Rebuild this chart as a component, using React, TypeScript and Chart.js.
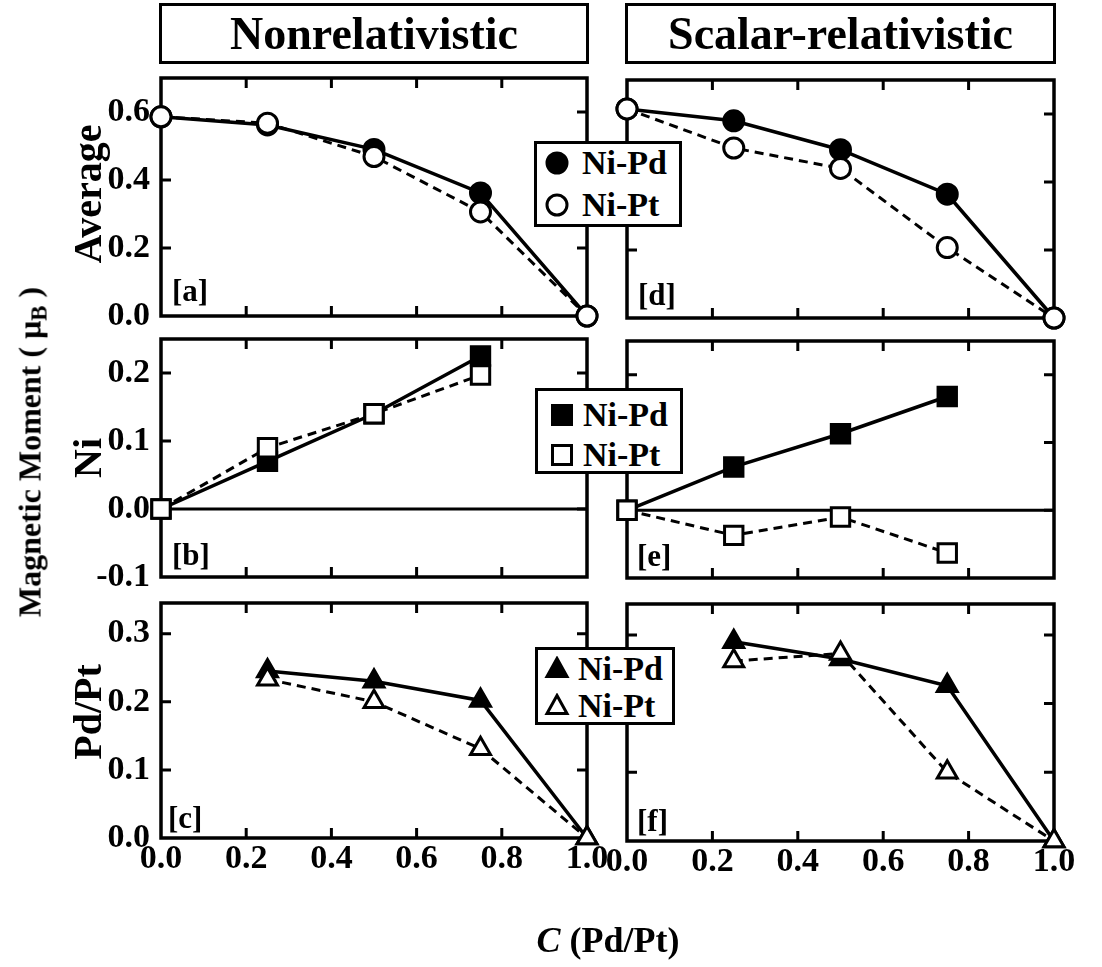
import React, { useEffect, useRef } from 'react';
import { Chart, registerables } from 'chart.js';

Chart.register(...registerables);

// ---------------- data ----------------
const concentrations = [0, 0.25, 0.5, 0.75, 1.0];
const xTickValues = [0, 0.2, 0.4, 0.6, 0.8, 1.0];

const avgNonrelNiPd = [0.586, 0.562, 0.49, 0.362, 0];
const avgNonrelNiPt = [0.586, 0.567, 0.469, 0.306, 0];
const avgScalarNiPd = [0.615, 0.58, 0.495, 0.364, 0];
const avgScalarNiPt = [0.615, 0.5, 0.44, 0.207, 0];

const niNonrelNiPd = [0, 0.07, 0.14, 0.225, null];
const niNonrelNiPt = [0, 0.09, 0.14, 0.197, null];
const niScalarNiPd = [0, 0.064, 0.113, 0.168, null];
const niScalarNiPt = [0, -0.037, -0.01, -0.063, null];

const pdNonrelNiPd = [null, 0.245, 0.23, 0.202, 0];
const pdNonrelNiPt = [null, 0.233, 0.2, 0.131, 0];
const pdScalarNiPd = [null, 0.29, 0.265, 0.226, 0];
const pdScalarNiPt = [null, 0.262, 0.273, 0.1, 0];

const avgYTicks = [0, 0.2, 0.4, 0.6];
const niYTicks = [-0.1, 0, 0.1, 0.2];
const pdYTicks = [0, 0.1, 0.2, 0.3];
const avgYRange = [0, 0.7];
const niYRange = [-0.1, 0.25];
const pdYRange = [0, 0.345];

const seriesNames = ['Ni-Pd', 'Ni-Pt'];
const columnTitles = ['Nonrelativistic', 'Scalar-relativistic'];
const rowTitles = ['Average', 'Ni', 'Pd/Pt'];
const panelTags = ['[a]', '[b]', '[c]', '[d]', '[e]', '[f]'];
const yAxisTitle = 'Magnetic Moment ( \u03bc';
const yAxisTitleSub = 'B';
const xAxisTitleItalic = 'C';
const xAxisTitleRest = ' (Pd/Pt)';

// ---------------- layout / style ----------------
const SERIF = "'Liberation Serif', 'Times New Roman', Times, serif";
const PAD = 26;
const Y_AXIS_W = 90;
const X_AXIS_H = 60;

type Marker = 'circle' | 'rect' | 'triangle';

type PanelProps = {
  left: number; top: number; right: number; bottom: number;
  yRange: number[]; yTicks: number[];
  pd: (number | null)[]; pt: (number | null)[];
  marker: Marker; radius: number;
  showYLabels: boolean; showXLabels: boolean; zeroLine: boolean;
};

const framePlugin = {
  id: 'frame',
  beforeDatasetsDraw(chart: any, _args: any, opts: any) {
    const { ctx, chartArea } = chart;
    const { left, right, top, bottom } = chartArea;
    const xs = chart.scales.x;
    const ys = chart.scales.y;
    const tl = 10;
    ctx.save();
    ctx.strokeStyle = '#000';
    ctx.lineWidth = 3;
    ctx.beginPath();
    for (const v of opts.xTicks) {
      const px = xs.getPixelForValue(v);
      if (px <= left + 1 || px >= right - 1) continue;
      ctx.moveTo(px, top); ctx.lineTo(px, top + tl);
      ctx.moveTo(px, bottom); ctx.lineTo(px, bottom - tl);
    }
    for (const v of opts.yTicks) {
      const py = ys.getPixelForValue(v);
      if (py <= top + 1 || py >= bottom - 1) continue;
      ctx.moveTo(left, py); ctx.lineTo(left + tl, py);
      ctx.moveTo(right, py); ctx.lineTo(right - tl, py);
    }
    ctx.stroke();
    if (opts.zeroLine) {
      const py = ys.getPixelForValue(0);
      ctx.beginPath();
      ctx.moveTo(left, py); ctx.lineTo(right, py);
      ctx.stroke();
    }
    ctx.lineWidth = 3.5;
    ctx.strokeRect(left, top, right - left, bottom - top);
    ctx.restore();
  },
};

function toPoints(vals: (number | null)[]) {
  return concentrations
    .map((c, i) => ({ x: c, y: vals[i] }))
    .filter((p) => p.y !== null);
}

function zeroPadding(s: any) {
  s.paddingTop = 0;
  s.paddingBottom = 0;
  s.paddingLeft = 0;
  s.paddingRight = 0;
}

function Panel(p: PanelProps) {
  const ref = useRef<HTMLCanvasElement>(null);
  const yW = p.showYLabels ? Y_AXIS_W : 0;
  const xH = p.showXLabels ? X_AXIS_H : 0;
  const cw = PAD + yW + (p.right - p.left) + PAD;
  const ch = PAD + (p.bottom - p.top) + xH + PAD;

  useEffect(() => {
    const tickFont = { family: SERIF, size: 34, weight: 'bold' as const };
    const chart = new Chart(ref.current as HTMLCanvasElement, {
      type: 'line',
      data: {
        datasets: [
          {
            label: seriesNames[0],
            data: toPoints(p.pd) as any,
            borderColor: '#000',
            borderWidth: 3.5,
            pointStyle: p.marker,
            pointRadius: p.radius,
            pointBackgroundColor: '#000',
            pointBorderColor: '#000',
            pointBorderWidth: 3,
            order: 2,
            clip: false as any,
          },
          {
            label: seriesNames[1],
            data: toPoints(p.pt) as any,
            borderColor: '#000',
            borderWidth: 3,
            borderDash: [9, 6],
            pointStyle: p.marker,
            pointRadius: p.radius,
            pointBackgroundColor: '#fff',
            pointBorderColor: '#000',
            pointBorderWidth: 3,
            order: 1,
            clip: false as any,
          },
        ],
      },
      options: {
        responsive: false,
        maintainAspectRatio: false,
        animation: false,
        events: [],
        layout: { padding: { left: PAD, right: PAD, top: PAD, bottom: PAD } },
        plugins: {
          legend: { display: false },
          tooltip: { enabled: false },
          frame: { xTicks: xTickValues, yTicks: p.yTicks, zeroLine: p.zeroLine },
        } as any,
        scales: {
          x: {
            type: 'linear',
            min: 0,
            max: 1,
            grid: { display: false, drawTicks: false },
            border: { display: false },
            afterBuildTicks: (s: any) => { s.ticks = xTickValues.map((v) => ({ value: v })); },
            afterFit: (s: any) => { s.height = xH; zeroPadding(s); },
            ticks: {
              display: p.showXLabels,
              font: tickFont,
              color: '#000',
              padding: 1,
              maxRotation: 0,
              autoSkip: false,
              callback: (v: any) => Number(v).toFixed(1),
            },
          },
          y: {
            type: 'linear',
            min: p.yRange[0],
            max: p.yRange[1],
            grid: { display: false, drawTicks: false },
            border: { display: false },
            afterBuildTicks: (s: any) => { s.ticks = p.yTicks.map((v) => ({ value: v })); },
            afterFit: (s: any) => { s.width = yW; zeroPadding(s); },
            ticks: {
              display: p.showYLabels,
              font: tickFont,
              color: '#000',
              padding: 11,
              autoSkip: false,
              callback: (v: any) => Number(v).toFixed(1),
            },
          },
        },
      },
      plugins: [framePlugin as any],
    });
    return () => chart.destroy();
  }, []);

  return (
    <canvas
      ref={ref}
      width={cw}
      height={ch}
      style={{ position: 'absolute', left: p.left - PAD - yW, top: p.top - PAD, width: cw, height: ch }}
    />
  );
}

function MarkerIcon({ marker, filled }: { marker: Marker; filled: boolean }) {
  const fill = filled ? '#000' : '#fff';
  let shape: any;
  if (marker === 'circle') shape = <circle cx={13} cy={13} r={10} fill={fill} stroke="#000" strokeWidth={3} />;
  else if (marker === 'rect') shape = <rect x={3.5} y={3.5} width={19} height={19} fill={fill} stroke="#000" strokeWidth={3} />;
  else shape = <polygon points="13,2.5 23,20.5 3,20.5" fill={fill} stroke="#000" strokeWidth={3} strokeLinejoin="miter" />;
  return (
    <svg width={26} height={26} style={{ position: 'absolute', left: -13, top: -13 }}>
      {shape}
    </svg>
  );
}

type LegendProps = {
  left: number; top: number; width: number; height: number;
  marker: Marker; markerX: number; textX: number; rowY: number[];
};

function LegendBox(l: LegendProps) {
  return (
    <div
      style={{
        position: 'absolute', left: l.left, top: l.top, width: l.width, height: l.height,
        border: '3px solid #000', boxSizing: 'border-box', background: '#fff',
      }}
    >
      {seriesNames.map((name, i) => (
        <React.Fragment key={name}>
          <div style={{ position: 'absolute', left: l.markerX - 3, top: l.rowY[i] - 3, width: 0, height: 0 }}>
            <MarkerIcon marker={l.marker} filled={i === 0} />
          </div>
          <div
            style={{
              position: 'absolute', left: l.textX - 3, top: l.rowY[i] - 3, transform: 'translateY(-50%)',
              font: `bold 34px ${SERIF}`, lineHeight: 1, whiteSpace: 'nowrap', color: '#000',
            }}
          >
            {name}
          </div>
        </React.Fragment>
      ))}
    </div>
  );
}

const colX = [[161, 587], [627, 1054]];
const rowYLeft = [[78, 316], [339, 577], [603, 838]];
const rowYRight = [[80, 318], [341, 578], [604, 841]];

export default function App() {
  const panels: PanelProps[] = [
    { left: colX[0][0], right: colX[0][1], top: rowYLeft[0][0], bottom: rowYLeft[0][1], yRange: avgYRange, yTicks: avgYTicks, pd: avgNonrelNiPd, pt: avgNonrelNiPt, marker: 'circle', radius: 10, showYLabels: true, showXLabels: false, zeroLine: false },
    { left: colX[0][0], right: colX[0][1], top: rowYLeft[1][0], bottom: rowYLeft[1][1], yRange: niYRange, yTicks: niYTicks, pd: niNonrelNiPd, pt: niNonrelNiPt, marker: 'rect', radius: 13, showYLabels: true, showXLabels: false, zeroLine: true },
    { left: colX[0][0], right: colX[0][1], top: rowYLeft[2][0], bottom: rowYLeft[2][1], yRange: pdYRange, yTicks: pdYTicks, pd: pdNonrelNiPd, pt: pdNonrelNiPt, marker: 'triangle', radius: 11.5, showYLabels: true, showXLabels: true, zeroLine: false },
    { left: colX[1][0], right: colX[1][1], top: rowYRight[0][0], bottom: rowYRight[0][1], yRange: avgYRange, yTicks: avgYTicks, pd: avgScalarNiPd, pt: avgScalarNiPt, marker: 'circle', radius: 10, showYLabels: false, showXLabels: false, zeroLine: false },
    { left: colX[1][0], right: colX[1][1], top: rowYRight[1][0], bottom: rowYRight[1][1], yRange: niYRange, yTicks: niYTicks, pd: niScalarNiPd, pt: niScalarNiPt, marker: 'rect', radius: 13, showYLabels: false, showXLabels: false, zeroLine: true },
    { left: colX[1][0], right: colX[1][1], top: rowYRight[2][0], bottom: rowYRight[2][1], yRange: pdYRange, yTicks: pdYTicks, pd: pdScalarNiPd, pt: pdScalarNiPt, marker: 'triangle', radius: 11.5, showYLabels: false, showXLabels: true, zeroLine: false },
  ];

  const tagPos = [[172, 275], [172, 539], [168, 802], [638, 279], [637, 540], [637, 805]];
  const rowCenters = [194, 458, 712];

  return (
    <div style={{ position: 'fixed', left: 0, top: 0, width: 1102, height: 967, background: '#fff', overflow: 'hidden', color: '#000' }}>
      {panels.map((p, i) => <Panel key={i} {...p} />)}

      {columnTitles.map((t, i) => (
        <div
          key={t}
          style={{
            position: 'absolute', left: colX[i][0] - 2, top: 3, width: colX[i][1] - colX[i][0] + 4, height: 61,
            border: '3px solid #000', boxSizing: 'border-box', display: 'flex', alignItems: 'center',
            justifyContent: 'center', font: `bold 46px ${SERIF}`, whiteSpace: 'nowrap', lineHeight: 1,
          }}
        >
          {t}
        </div>
      ))}

      {rowTitles.map((t, i) => (
        <div
          key={t}
          style={{
            position: 'absolute', left: 88, top: rowCenters[i], transform: 'translate(-50%, -50%) rotate(-90deg)',
            font: `bold 40px ${SERIF}`, whiteSpace: 'nowrap', lineHeight: 1,
          }}
        >
          {t}
        </div>
      ))}

      <div
        style={{
          position: 'absolute', left: 32, top: 452, transform: 'translate(-50%, -50%) rotate(-90deg)',
          font: `bold 32px ${SERIF}`, whiteSpace: 'nowrap', lineHeight: 1,
        }}
      >
        {yAxisTitle}
        <sub style={{ fontSize: 23, verticalAlign: -6 }}>{yAxisTitleSub}</sub>
        {' )'}
      </div>

      <div
        style={{
          position: 'absolute', left: 608, top: 940, transform: 'translate(-50%, -50%)',
          font: `bold 36px ${SERIF}`, whiteSpace: 'nowrap', lineHeight: 1,
        }}
      >
        <i>{xAxisTitleItalic}</i>
        {xAxisTitleRest}
      </div>

      {panelTags.map((t, i) => (
        <div
          key={t}
          style={{ position: 'absolute', left: tagPos[i][0], top: tagPos[i][1], font: `bold 31px ${SERIF}`, lineHeight: 1, whiteSpace: 'nowrap' }}
        >
          {t}
        </div>
      ))}

      <LegendBox left={534} top={141} width={148} height={86} marker="circle" markerX={23} textX={48} rowY={[22, 64]} />
      <LegendBox left={535} top={388} width={148} height={86} marker="rect" markerX={27} textX={48} rowY={[27, 67]} />
      <LegendBox left={535} top={647} width={140} height={78} marker="triangle" markerX={22} textX={43} rowY={[22, 59]} />
    </div>
  );
}
